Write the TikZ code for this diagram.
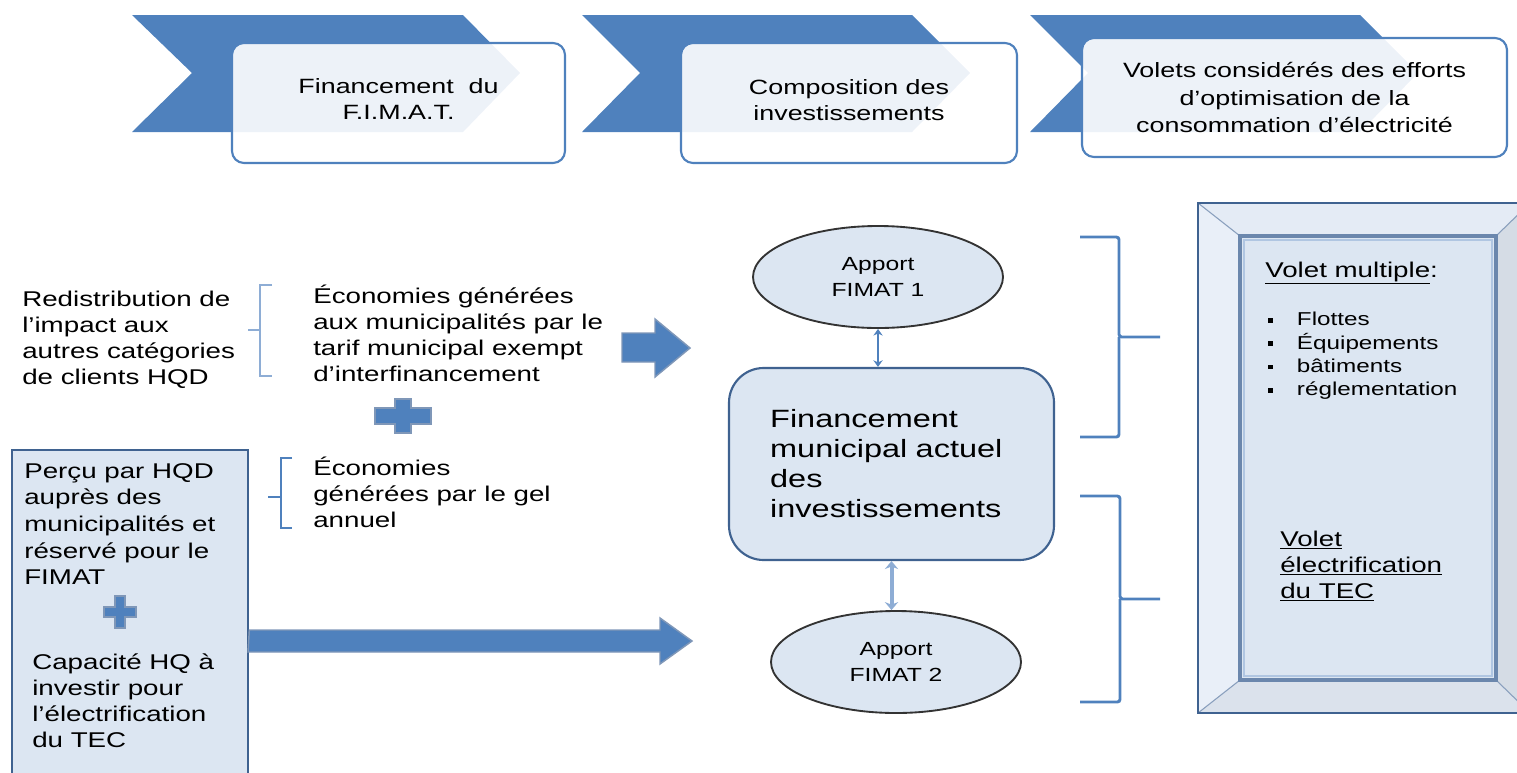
\documentclass[tikz,border=0pt]{standalone}
\usepackage{fontspec}
\setmainfont[FakeStretch=1.3]{Liberation Sans}
\usetikzlibrary{arrows.meta,shapes.geometric}
\definecolor{cblue}{HTML}{4F81BD}
\definecolor{cdark}{HTML}{3F6290}
\definecolor{cfill}{HTML}{DCE6F2}
\definecolor{cedge}{HTML}{7F97B8}
\definecolor{clight}{HTML}{8EADD5}
\definecolor{ftop}{HTML}{E4EBF5}
\definecolor{fleft}{HTML}{E9EFF8}
\definecolor{fright}{HTML}{D5DCE5}
\definecolor{fbot}{HTML}{DBE2EC}
\definecolor{finner}{HTML}{6B87AD}
\begin{document}
\begin{tikzpicture}[x=0.75pt,y=-0.75pt,
  chev/.style={fill=cblue},
  hbox/.style={draw=cblue, line width=1.6pt, rounded corners=9pt, fill=white,
    fill opacity=0.9, text opacity=1, align=center, inner sep=0pt},
  txt/.style={inner sep=0pt, align=left, anchor=west, font=\fontsize{16}{19.5}\selectfont},
  barrow/.style={fill=cblue, draw=cedge, line width=1.1pt, line join=miter},
  brace/.style={draw=cblue, line width=2.2pt, rounded corners=2pt},
  lbrack/.style={draw=clight, line width=1.6pt},
  apport/.style={ellipse, draw=black!80, line width=1.4pt, fill=cfill, inner sep=0pt,
    minimum width=187.5pt, minimum height=76.5pt, align=center,
    font=\fontsize{14.25}{20}\selectfont},
  darr/.style={draw=cblue, line width=1.2pt, {Stealth[length=5pt,width=7pt]}-{Stealth[length=5pt,width=7pt]}},
  darrb/.style={draw=clight, line width=3pt, {Stealth[length=6pt,width=10pt]}-{Stealth[length=6pt,width=10pt]}},
  bul/.style={inner sep=0pt, align=left, anchor=west, font=\fontsize{14}{17.5}\selectfont}
]
\useasboundingbox (0,0) rectangle (1517,772);
\clip (0,0) rectangle (1517,772);

% ---- header chevrons ----
\fill[chev] (132,15) -- (463,15) -- (520,73) -- (463,132) -- (132,132) -- (192,73) -- cycle;
\fill[chev] (582,15) -- (912,15) -- (970,73) -- (912,132) -- (582,132) -- (640,73) -- cycle;
\fill[chev] (1030,15) -- (1360,15) -- (1418,73) -- (1360,132) -- (1030,132) -- (1088,73) -- cycle;

\node[hbox, minimum width=249.75pt, minimum height=90pt, font=\fontsize{15.5}{19.5}\selectfont] (h1) at (398.5,103) {};
\node[align=center, inner sep=0pt, font=\fontsize{15.5}{19.5}\selectfont] (h1t) at (h1.center) [yshift=3pt] {Financement\ \ du\\F.I.M.A.T.};
\node[hbox, minimum width=252pt, minimum height=90pt] (h2) at (849,103) {};
\node[align=center, inner sep=0pt, font=\fontsize{15.5}{19.5}\selectfont] (h2t) at (h2.center) [yshift=2pt] {Composition des\\investissements};
\node[hbox, minimum width=318.75pt, minimum height=89.25pt] (h3) at (1294.5,97.5) {};
\node[align=center, inner sep=0pt, font=\fontsize{15.5}{20.5}\selectfont] (h3t) at (h3.center) {Volets considérés des efforts\\d'optimisation de la\\consommation d'électricité};

% ---- left texts ----
\node[txt] (t1) at (22,340) {Redistribution de\\l'impact aux\\autres catégories\\de clients HQD};
\draw[lbrack] (272,285) -- (260,285) -- (260,376) -- (272,376);
\draw[lbrack] (260,330) -- (248,330);
\node[txt] (t2) at (313,333) {Économies générées\\aux municipalités par le\\tarif municipal exempt\\d'interfinancement};

\filldraw[barrow] (375,408) -- (395,408) -- (395,399) -- (411,399) -- (411,408) -- (431,408)
  -- (431,424) -- (411,424) -- (411,433) -- (395,433) -- (395,424) -- (375,424) -- cycle;

\draw[lbrack, draw=cblue] (292,458) -- (281,458) -- (281,528) -- (292,528);
\draw[lbrack, draw=cblue] (281,497) -- (268,497);
\node[txt] (t3) at (313,492) {Économies\\générées par le gel\\annuel};

% block arrow 1
\filldraw[barrow] (622,333) -- (655,333) -- (655,319) -- (690,348) -- (655,377) -- (655,362) -- (622,362) -- cycle;

% left box
\node[draw=cdark, fill=cfill, line width=2pt, minimum width=177pt, minimum height=262.5pt, inner sep=0pt] (lb) at (130,625) {};
\node[txt, font=\fontsize{16}{20}\selectfont] (t4) at (24,524) {Perçu par HQD\\auprès des\\municipalités et\\réservé pour le\\FIMAT};
\filldraw[barrow] (104,607) -- (115,607) -- (115,596) -- (125,596) -- (125,607) -- (136,607)
  -- (136,617) -- (125,617) -- (125,628) -- (115,628) -- (115,617) -- (104,617) -- cycle;
\node[txt] (t5) at (32,701) {Capacité HQ à\\investir pour\\l'électrification\\du TEC};

% long arrow
\path (lb.east |- 0,641) coordinate (a2s);
\coordinate (a2e) at (692,641);
\filldraw[barrow] (a2s) ++(0,-11) -- (660,630) -- (660,618) -- (a2e) -- (660,664) -- (660,652) -- (248,652) -- cycle;

% ---- centre ----
\node[apport] (e1) at (878,277) {Apport\\FIMAT 1};
\node[draw=cdark, fill=cfill, line width=1.6pt, rounded corners=26pt, minimum width=243.75pt,
  minimum height=144pt, inner sep=0pt, text width=182pt, align=left,
  font=\fontsize{18.75}{22.5}\selectfont] (rb) at (891.5,464)
  {Financement\\municipal actuel\\des\\investissements};
\node[apport] (e2) at (896,662) {Apport\\FIMAT 2};
\draw[darr] (e1.south) -- (e1.south |- rb.north);
\draw[darrb] (rb.south) -- (rb.south |- e2.north);

% ---- right braces ----
\draw[brace] (1080,237) -| (1119,337) -- (1160,337);
\draw[brace] (1119,337) |- (1080,437);
\draw[brace] (1080,496) -| (1120,599) -- (1160,599);
\draw[brace] (1120,599) |- (1080,702);

% ---- bevel frame ----
\fill[ftop] (1198,203) -- (1530,203) -- (1496,236) -- (1240,236) -- cycle;
\fill[fleft] (1198,203) -- (1240,236) -- (1240,680) -- (1198,713) -- cycle;
\fill[fright] (1530,203) -- (1496,236) -- (1496,680) -- (1530,713) -- cycle;
\fill[fbot] (1198,713) -- (1240,680) -- (1496,680) -- (1530,713) -- cycle;
\draw[finner!80, line width=0.8pt] (1198,203) -- (1240,236) (1530,203) -- (1496,236)
  (1198,713) -- (1240,680) (1530,713) -- (1496,680);
\draw[cdark, line width=2pt] (1198,203) rectangle (1530,713);
\node[draw=finner, fill=cfill, line width=2.4pt, minimum width=192pt, minimum height=333pt, inner sep=0pt] (fr) at (1368,458) {};
\draw[clight!70, line width=0.8pt] (1244,240) rectangle (1492,676);

\node[txt] (vm) at (1265,273) {\underline{Volet multiple}:};
\node[bul] (bl) at (1268,356) {%
  \raisebox{2.5pt}{\rule{3.5pt}{3.5pt}}\hspace{18pt}Flottes\\
  \raisebox{2.5pt}{\rule{3.5pt}{3.5pt}}\hspace{18pt}Équipements\\
  \raisebox{2.5pt}{\rule{3.5pt}{3.5pt}}\hspace{18pt}bâtiments\\
  \raisebox{2.5pt}{\rule{3.5pt}{3.5pt}}\hspace{18pt}réglementation};
\node[txt] (ve) at (1280,566) {\underline{Volet}\\\underline{électrification}\\\underline{du TEC}};
\end{tikzpicture}
\end{document}
